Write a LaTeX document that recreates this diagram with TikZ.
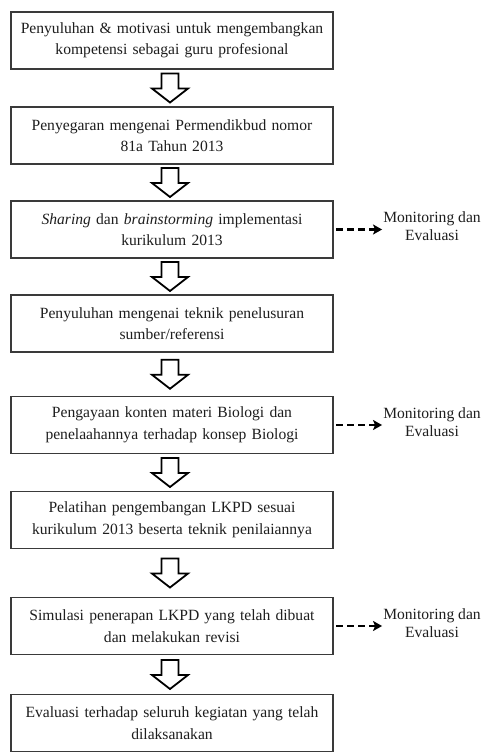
\documentclass[tikz,border=0pt]{standalone}
\usepackage{fontspec}
\setmainfont{Liberation Serif}
\usetikzlibrary{calc,arrows.meta}
\definecolor{ink}{HTML}{1E1E1E}
\definecolor{frame}{HTML}{3A3A3A}
\tikzset{
  stepbox/.style={draw=frame, line width=1.2pt, fill=white, minimum width=322pt, minimum height=57pt,
    text width=310pt, align=center, inner sep=0pt, text=ink,
    font=\fontsize{15.6}{21.5}\selectfont},
  montext/.style={align=center, inner sep=1pt, text=ink, font=\fontsize{15.6}{18.5}\selectfont},
  blockarr/.style={draw=black, line width=1.8pt, fill=white, line join=miter},
  dasharr/.style={draw=black, line width=2.6pt, dash pattern=on 7pt off 4pt,
    -{Stealth[length=9pt,width=10pt,inset=2pt]}}
}
\begin{document}
\begin{tikzpicture}[x=1pt,y=-1pt]
\useasboundingbox[fill=white] (0,0) rectangle (485,755);
\node[stepbox] (b1) at (172,40.5) {Penyuluhan \& motivasi untuk mengembangkan\\kompetensi sebagai guru profesional};
\node[stepbox] (b2) at (172,135.5) {Penyegaran mengenai Permendikbud nomor\\81a Tahun 2013};
\node[stepbox] (b3) at (172,229.5) {\textit{Sharing} dan \textit{brainstorming} implementasi\\kurikulum 2013};
\node[stepbox] (b4) at (172,323.5) {Penyuluhan mengenai teknik penelusuran\\sumber/referensi};
\node[stepbox] (b5) at (172,425) {Pengayaan konten materi Biologi dan\\penelaahannya terhadap konsep Biologi};
\node[stepbox] (b6) at (172,520) {Pelatihan pengembangan LKPD sesuai\\kurikulum 2013 beserta teknik penilaiannya};
\node[stepbox] (b7) at (172,626) {Simulasi penerapan LKPD yang telah dibuat\\dan melakukan revisi};
\node[stepbox] (b8) at (172,723) {Evaluasi terhadap seluruh kegiatan yang telah\\dilaksanakan};

% hollow block arrows, same size, centred in each gap
\foreach \i/\j in {1/2,2/3,3/4,4/5,5/6,6/7,7/8}{
  \path let \p1=($(b\i.south)!0.5!(b\j.north)+(-2,0)$) in
    [blockarr] (\x1-8.5pt,\y1+14.5pt) -- (\x1+8.5pt,\y1+14.5pt) -- (\x1+8.5pt,\y1-0.5pt) -- (\x1+18pt,\y1-0.5pt)
      -- (\x1,\y1-14.5pt) -- (\x1-18pt,\y1-0.5pt) -- (\x1-8.5pt,\y1-0.5pt) -- cycle;
}

\node[montext] (m3) at (432,226) {Monitoring dan\\Evaluasi};
\node[montext] (m5) at (432,422) {Monitoring dan\\Evaluasi};
\node[montext] (m7) at (432,623) {Monitoring dan\\Evaluasi};
\foreach \k in {3,5,7}{
  \draw[dasharr] ($(b\k.east)+(2.5,0)$) -- (b\k.east -| m\k.west);
}
\end{tikzpicture}
\end{document}
